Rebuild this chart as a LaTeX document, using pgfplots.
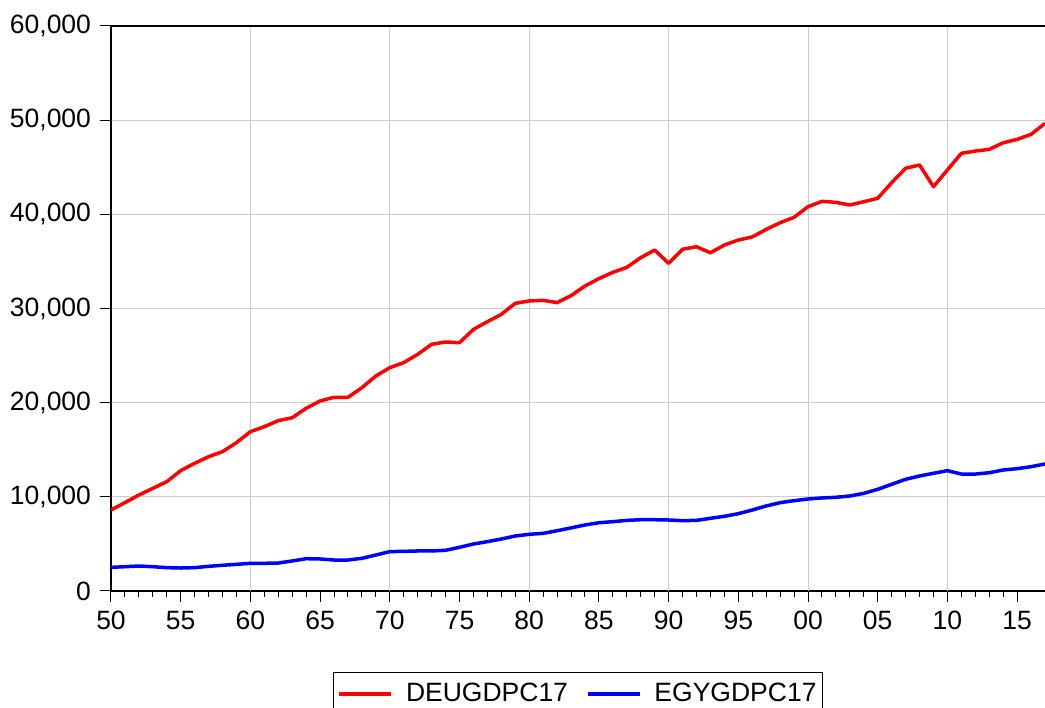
\documentclass[border=0pt]{standalone}
\usepackage{fontspec}
\setmainfont{Liberation Sans}
\usepackage{pgfplots}
\pgfplotsset{compat=1.18}
\begin{document}
\fontsize{26.5}{31}\selectfont
\begin{tikzpicture}
\path[use as bounding box] (-111pt,-117pt) rectangle (934pt,591pt);
\begin{axis}[
  at={(0pt,0pt)}, anchor=south west,
  scale only axis, width=934pt, height=565pt,
  xmin=1950, xmax=2017, ymin=0, ymax=60000,
  axis lines=left,
  axis line style={-, line width=1.3pt, black},
  xtick={1950,1955,...,2015},
  xticklabels={50,55,60,65,70,75,80,85,90,95,00,05,10,15},
  minor x tick num=4,
  ytick={0,10000,...,60000},
  scaled y ticks=false,
  ymajorgrids,
  extra x ticks={1960,1970,1980,1990,2000,2010},
  extra x tick labels={},
  extra x tick style={xmajorgrids=true, major tick length=0pt},
  tick align=outside,
  major tick length=11pt, minor tick length=6pt,
  tick style={black, line width=1pt},
  grid style={line width=1pt, color=black!20},
  /pgf/number format/assume math mode=true,
  yticklabel style={/pgf/number format/.cd, fixed, 1000 sep={,}},
  ticklabel style={font=\fontsize{26.5}{31}\selectfont},
  legend style={at={(0.5,-0.1434)}, anchor=north, legend columns=2, draw=black, line width=1pt,
    font=\fontsize{26.5}{31}\selectfont, inner xsep=4pt, inner ysep=8pt,
    /tikz/every even column/.append style={column sep=16pt}},
  legend image code/.code={\draw[#1, line width=3.5pt] (0pt,0pt) -- (52pt,0pt); \path (63pt,0pt);},
]
\addplot[draw={rgb,255:red,255;green,0;blue,0}, line width=3.5pt, line join=round] coordinates {
(1950,8600) (1951,9380) (1952,10190) (1953,10900) (1954,11610) (1955,12780) (1956,13560) (1957,14260) (1958,14800) (1959,15750)
(1960,16920) (1961,17450) (1962,18090) (1963,18400) (1964,19400) (1965,20180) (1966,20570) (1967,20570) (1968,21590) (1969,22830)
(1970,23720) (1971,24250) (1972,25130) (1973,26200) (1974,26440) (1975,26370) (1976,27780) (1977,28600) (1978,29380) (1979,30550)
(1980,30800) (1981,30870) (1982,30620) (1983,31360) (1984,32390) (1985,33170) (1986,33840) (1987,34370) (1988,35400) (1989,36210)
(1990,34800) (1991,36290) (1992,36560) (1993,35920) (1994,36740) (1995,37270) (1996,37600) (1997,38400) (1998,39110) (1999,39680)
(2000,40810) (2001,41380) (2002,41270) (2003,40990) (2004,41340) (2005,41700) (2006,43360) (2007,44890) (2008,45240) (2009,42940)
(2010,44710) (2011,46480) (2012,46720) (2013,46900) (2014,47600) (2015,47960) (2016,48490) (2017,49660)
};
\addlegendentry{DEUGDPC17}
\addplot[draw={rgb,255:red,0;green,0;blue,255}, line width=3.5pt, line join=round] coordinates {
(1950,2510) (1951,2580) (1952,2650) (1953,2580) (1954,2480) (1955,2440) (1956,2480) (1957,2620) (1958,2730) (1959,2830)
(1960,2940) (1961,2940) (1962,2970) (1963,3190) (1964,3430) (1965,3400) (1966,3290) (1967,3290) (1968,3470) (1969,3820)
(1970,4180) (1971,4210) (1972,4250) (1973,4250) (1974,4320) (1975,4640) (1976,4990) (1977,5240) (1978,5520) (1979,5840)
(1980,6020) (1981,6120) (1982,6400) (1983,6700) (1984,7010) (1985,7250) (1986,7360) (1987,7500) (1988,7570) (1989,7570)
(1990,7540) (1991,7470) (1992,7500) (1993,7720) (1994,7930) (1995,8210) (1996,8600) (1997,9030) (1998,9380) (1999,9590)
(2000,9770) (2001,9880) (2002,9950) (2003,10090) (2004,10370) (2005,10800) (2006,11330) (2007,11860) (2008,12210) (2009,12500)
(2010,12780) (2011,12420) (2012,12420) (2013,12560) (2014,12850) (2015,12990) (2016,13200) (2017,13490)
};
\addlegendentry{EGYGDPC17}
\draw[black, line width=1.3pt] (rel axis cs:0,1) -- (rel axis cs:1,1);
\end{axis}
\end{tikzpicture}
\end{document}
